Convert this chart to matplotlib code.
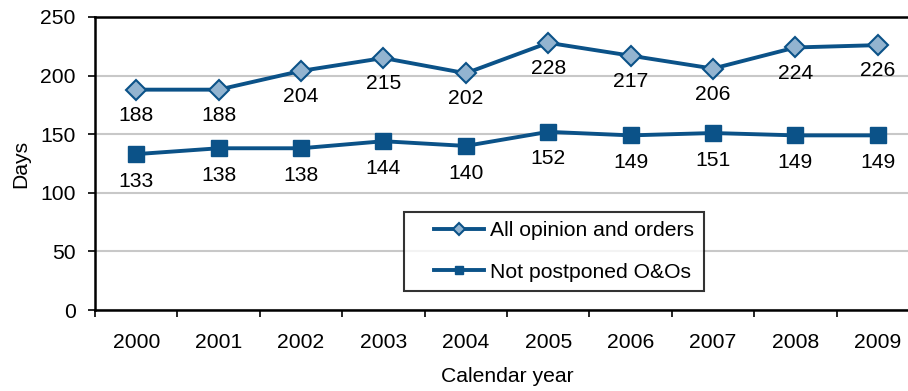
import matplotlib
matplotlib.use("Agg")
import matplotlib.pyplot as plt
from matplotlib.legend_handler import HandlerLine2D

plt.rcParams['font.family'] = ['Liberation Sans', 'DejaVu Sans']

years = ['2000', '2001', '2002', '2003', '2004', '2005', '2006', '2007', '2008', '2009']
all_oo = [188, 188, 204, 215, 202, 228, 217, 206, 224, 226]
not_postponed = [133, 138, 138, 144, 140, 152, 149, 151, 149, 149]

line_color = '#0B5288'
diamond_face = '#93B4D0'
fs = 15.2

fig = plt.figure(figsize=(9.08, 3.91), dpi=100)
ax = fig.add_axes([95 / 908, 1 - 310 / 391, (919 - 95) / 908, (310 - 17) / 391])

x = list(range(len(years)))
ax.plot(x, all_oo, color=line_color, lw=2.8, marker='D', ms=10.5,
        mfc=diamond_face, mec=line_color, mew=1.5, label='All opinion and orders', zorder=3)
ax.plot(x, not_postponed, color=line_color, lw=2.8, marker='s', ms=11,
        mfc=line_color, mec=line_color, label='Not postponed O&Os', zorder=3)

for xi, v in zip(x, all_oo):
    ax.annotate(str(v), (xi, v), xytext=(0, -18.5), textcoords='offset points',
                ha='center', va='center', fontsize=fs)
for xi, v in zip(x, not_postponed):
    ax.annotate(str(v), (xi, v), xytext=(0, -19.5), textcoords='offset points',
                ha='center', va='center', fontsize=fs)

ax.set_xlim(-0.5, len(years) - 0.5)
ax.set_ylim(0, 250)
ax.set_yticks([0, 50, 100, 150, 200, 250])
ax.set_xticks([i - 0.5 for i in range(len(years) + 1)], minor=False)
ax.set_xticklabels([])
ax.set_xticks(x, minor=True)
ax.set_xticklabels(years, minor=True)
ax.tick_params(axis='x', which='major', direction='out', length=5, width=1.2)
ax.tick_params(axis='x', which='minor', length=0, pad=16.5, labelsize=fs)
ax.tick_params(axis='y', direction='out', length=5, width=1.2, labelsize=fs, pad=9)

ax.grid(axis='y', color='#C8C8C8', lw=1.5)
ax.set_axisbelow(True)
ax.spines['right'].set_visible(False)
for s in ['left', 'bottom', 'top']:
    ax.spines[s].set_linewidth(1.8)
    ax.spines[s].set_color('black')

ax.set_ylabel('Days', fontsize=fs, labelpad=7)
ax.set_xlabel('Calendar year', fontsize=fs, labelpad=11)

# legend handles: line sample indented from the frame's left edge
handler = HandlerLine2D(xpad=0.97)
leg = ax.legend(loc='upper left', bbox_to_anchor=((404 - 95) / 824, (310 - 212) / 293),
                frameon=True, fancybox=False, edgecolor='black', fontsize=fs,
                handlelength=3.34, borderpad=0.45, labelspacing=1.05,
                handletextpad=0.3, borderaxespad=0, markerscale=0.55,
                handler_map={ax.lines[0]: handler, ax.lines[1]: handler})
leg.get_frame().set_linewidth(1.5)

fig.savefig('out.png', dpi=100)
